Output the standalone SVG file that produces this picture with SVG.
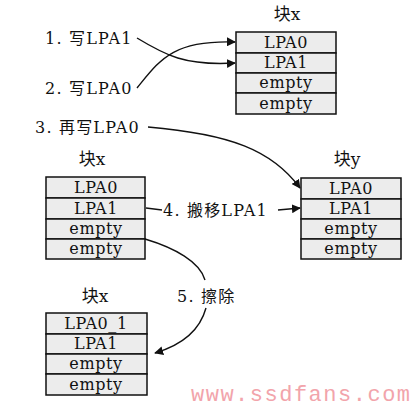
<svg xmlns="http://www.w3.org/2000/svg" width="418" height="409" viewBox="0 0 418 409">
<style>
.cell{fill:#ececec;stroke:#111;stroke-width:1.5}
.t{font-family:"DejaVu Serif","Noto Sans CJK SC",serif;font-size:16px;fill:#111;text-anchor:middle;letter-spacing:0.6px}
.lbl{font-family:"DejaVu Serif","Noto Sans CJK SC",serif;font-size:16px;fill:#111;letter-spacing:1.2px}
.ttl{font-family:"DejaVu Serif","Noto Sans CJK SC",serif;font-size:17px;fill:#111;text-anchor:middle}
.c{fill:none;stroke:#111;stroke-width:1.4}
.wm{font-family:"Liberation Mono",monospace;font-size:22px;fill:#f2a4ab;letter-spacing:1.5px}
</style>
<defs>
<marker id="ah" viewBox="0 0 10 10" refX="9" refY="5" markerWidth="9" markerHeight="9" markerUnits="userSpaceOnUse" orient="auto">
<path d="M0,0 L10,5 L0,10 z" fill="#111"/>
</marker>
</defs>

<g id="blockx1">
<text class="ttl" x="287" y="20">块x</text>
<rect class="cell" x="236" y="32" width="100" height="21"/>
<rect class="cell" x="236" y="53" width="100" height="20"/>
<rect class="cell" x="236" y="73" width="100" height="20"/>
<rect class="cell" x="236" y="93" width="100" height="21"/>
<text class="t" x="286" y="48">LPA0</text>
<text class="t" x="286" y="68">LPA1</text>
<text class="t" x="286" y="88">empty</text>
<text class="t" x="286" y="109">empty</text>
</g>

<g id="blockx2">
<text class="ttl" x="92" y="165">块x</text>
<rect class="cell" x="46" y="177" width="99" height="21"/>
<rect class="cell" x="46" y="198" width="99" height="21"/>
<rect class="cell" x="46" y="219" width="99" height="20"/>
<rect class="cell" x="46" y="239" width="99" height="20"/>
<text class="t" x="96" y="193">LPA0</text>
<text class="t" x="96" y="214">LPA1</text>
<text class="t" x="96" y="234">empty</text>
<text class="t" x="96" y="254">empty</text>
</g>

<g id="blocky">
<text class="ttl" x="347" y="165">块y</text>
<rect class="cell" x="301" y="178" width="100" height="21"/>
<rect class="cell" x="301" y="199" width="100" height="20"/>
<rect class="cell" x="301" y="219" width="100" height="20"/>
<rect class="cell" x="301" y="239" width="100" height="20"/>
<text class="t" x="351" y="194">LPA0</text>
<text class="t" x="351" y="214">LPA1</text>
<text class="t" x="351" y="234">empty</text>
<text class="t" x="351" y="254">empty</text>
</g>

<g id="blockx3">
<text class="ttl" x="95" y="302">块x</text>
<rect class="cell" x="46" y="313" width="101" height="21"/>
<rect class="cell" x="46" y="334" width="101" height="20"/>
<rect class="cell" x="46" y="354" width="101" height="20"/>
<rect class="cell" x="46" y="374" width="101" height="21"/>
<text class="t" x="96" y="329">LPA0_1</text>
<text class="t" x="96" y="349">LPA1</text>
<text class="t" x="96" y="369">empty</text>
<text class="t" x="96" y="390">empty</text>
</g>

<g id="labels">
<text class="lbl" x="45" y="44">1. 写LPA1</text>
<text class="lbl" x="45" y="94">2. 写LPA0</text>
<text class="lbl" x="35" y="133">3. 再写LPA0</text>
<text class="lbl" x="163" y="216">4. 搬移LPA1</text>
<text class="lbl" x="177" y="302">5. 擦除</text>
</g>

<g id="connectors">
<path class="c" d="M137,38 C165,55 185,66 235,63" marker-end="url(#ah)"/>
<path class="c" d="M137,88 C160,60 172,40 235,42" marker-end="url(#ah)"/>
<path class="c" d="M148,127 C230,134 272,150 300,188" marker-end="url(#ah)"/>
<path class="c" d="M146,208 L162,210"/>
<path class="c" d="M278,210 L300,208" marker-end="url(#ah)"/>
<path class="c" d="M145,239 C175,248 200,262 205,280"/>
<path class="c" d="M206,308 C200,330 182,345 155,353" marker-end="url(#ah)"/>
</g>

<text class="wm" x="191" y="401">www.ssdfans.com</text>
</svg>
